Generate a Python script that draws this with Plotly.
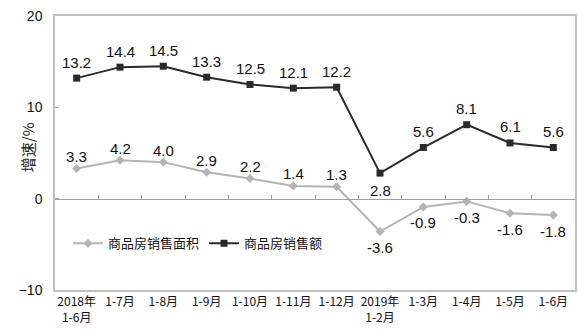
import plotly.graph_objects as go

categories = ["2018年<br>1-6月", "1-7月", "1-8月", "1-9月", "1-10月", "1-11月", "1-12月",
              "2019年<br>1-2月", "1-3月", "1-4月", "1-5月", "1-6月"]
area_growth = [3.3, 4.2, 4.0, 2.9, 2.2, 1.4, 1.3, -3.6, -0.9, -0.3, -1.6, -1.8]
sales_growth = [13.2, 14.4, 14.5, 13.3, 12.5, 12.1, 12.2, 2.8, 5.6, 8.1, 6.1, 5.6]
area_name = "商品房销售面积"
sales_name = "商品房销售额"
y_ticks = [-10, 0, 10, 20]

GRAY = "#b4b4b4"
BLACK = "#2a2a2a"
NUM_FONT = "Liberation Sans Narrow, Arial Narrow, Liberation Sans, Arial"
CJK_FONT = "Noto Sans CJK SC, Noto Sans, sans-serif"

fig = go.Figure()
fig.add_trace(go.Scatter(
    x=categories, y=area_growth, name=area_name, mode="lines+markers",
    line=dict(color=GRAY, width=2), marker=dict(symbol="diamond", size=7, color=GRAY),
))
fig.add_trace(go.Scatter(
    x=categories, y=sales_growth, name=sales_name, mode="lines+markers",
    line=dict(color=BLACK, width=2), marker=dict(symbol="square", size=7, color=BLACK),
))
# helper trace for zero-line axis with ticks
fig.add_trace(go.Scatter(x=categories, y=[None] * len(categories), xaxis="x2",
                         showlegend=False, hoverinfo="skip"))

annotations = []
for c, v in zip(categories, sales_growth):
    below = v < 5
    annotations.append(dict(x=c, y=v, text=f"{v:.1f}", showarrow=False,
                            yshift=-17 if below else 16,
                            font=dict(family=NUM_FONT, size=15, color="#111")))
for c, v in zip(categories, area_growth):
    annotations.append(dict(x=c, y=v, text=f"{v:.1f}", showarrow=False,
                            yshift=-16 if v < 0 else 12,
                            font=dict(family=NUM_FONT, size=15, color="#111")))
annotations.append(dict(xref="paper", yref="paper", x=(15 - 55) / 522, y=0.52,
                        text="增速/%", textangle=-90, showarrow=False,
                        font=dict(family=CJK_FONT, size=15, color="#222")))

fig.update_layout(
    width=578, height=331,
    margin=dict(l=55, r=1, t=16, b=41),
    paper_bgcolor="white", plot_bgcolor="white",
    showlegend=True,
    legend=dict(orientation="h", x=0.025, y=0.17, xanchor="left", yanchor="middle",
                bgcolor="rgba(0,0,0,0)",
                font=dict(family=CJK_FONT, size=13, color="#111"), itemwidth=30),
    annotations=annotations,
    xaxis=dict(type="category", categoryarray=categories, range=[-0.5, len(categories) - 0.5],
               showline=True, linecolor="#c0c0c0", linewidth=1.5, mirror=True,
               ticks="", showgrid=False, zeroline=False,
               tickfont=dict(family=CJK_FONT, size=12, color="#111")),
    xaxis2=dict(type="category", categoryarray=categories, range=[-0.5, len(categories) - 0.5],
                overlaying="x", anchor="free", position=1 / 3, side="bottom",
                showline=True, linecolor="#a0a0a0", linewidth=1,
                ticks="inside", ticklen=4, tickcolor="#a0a0a0", tickson="boundaries",
                showticklabels=False, showgrid=False, zeroline=False),
    yaxis=dict(range=[-10, 20], tickvals=y_ticks, showline=True, linecolor="#c0c0c0",
               linewidth=1.5, mirror=True, ticks="inside", ticklen=4, tickcolor="#aaaaaa",
               showgrid=False, zeroline=False, ticklabelstandoff=8,
               tickfont=dict(family="Liberation Sans, Arial", size=14, color="#111")),
)

fig.write_html("out.html")
